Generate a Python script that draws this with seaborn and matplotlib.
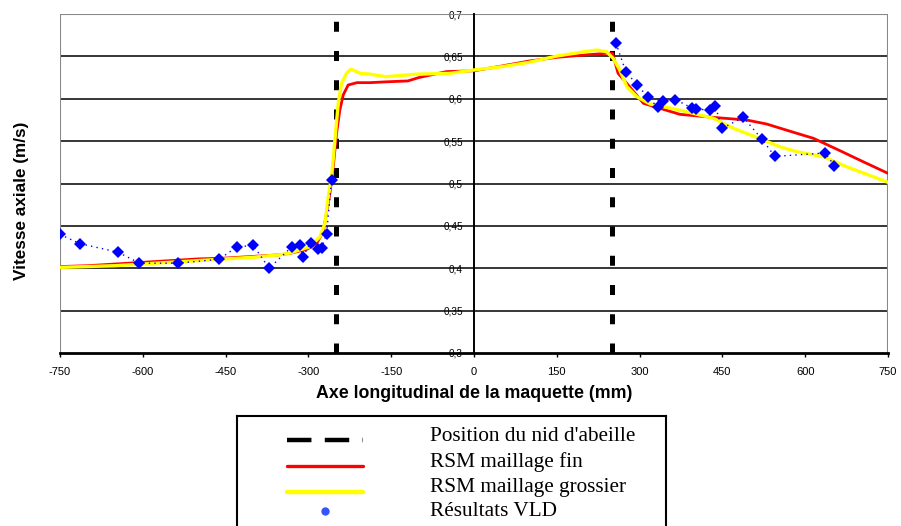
import numpy as np
import pandas as pd
import matplotlib
matplotlib.use("Agg")
import matplotlib.pyplot as plt
import seaborn as sns

# ---- data ----
fine_x = [-750, -700, -650, -600, -550, -500, -450, -400, -350, -333, -303, -285, -273, -261,
          -255, -249, -243, -237, -228, -212, -188, -158, -120, -100, -50, 0, 50, 100, 150, 200,
          240, 251, 261, 277, 307, 343, 373, 434, 494, 530, 585, 615, 663, 705, 750]
fine_y = [0.402, 0.403, 0.405, 0.407, 0.409, 0.411, 0.412, 0.414, 0.416, 0.4176, 0.4223, 0.4294,
          0.4431, 0.4884, 0.5198, 0.5592, 0.5867, 0.6044, 0.6162, 0.619, 0.619, 0.620, 0.621, 0.625,
          0.632, 0.633, 0.6386, 0.6445, 0.6489, 0.6516, 0.6536, 0.6536, 0.630, 0.618, 0.5946,
          0.5875, 0.5816, 0.578, 0.5749, 0.5702, 0.5592, 0.5533, 0.5387, 0.5257, 0.512]

coarse_x = [-750, -700, -650, -600, -550, -500, -450, -400, -350, -333, -297, -279, -270, -264,
            -258, -252, -246, -240, -231, -223, -206, -188, -160, -104, -43, 0, 50, 100, 150,
            200, 222, 240, 252, 264, 277, 295, 319, 349, 385, 434, 470, 506, 554, 585, 633,
            675, 750]
coarse_y = [0.401, 0.402, 0.403, 0.405, 0.407, 0.409, 0.411, 0.413, 0.416, 0.418, 0.4254,
            0.4372, 0.453, 0.4844, 0.508, 0.5513, 0.5946, 0.618, 0.630, 0.635, 0.630, 0.629,
            0.626, 0.629, 0.630, 0.634, 0.6378, 0.643, 0.6504, 0.6555, 0.6575, 0.6555, 0.6477,
            0.634, 0.6142, 0.6024, 0.5938, 0.5899, 0.5847, 0.5769, 0.5651, 0.556, 0.5434,
            0.5375, 0.5316, 0.5198, 0.5014]

vld_left_x = [-750, -714, -645, -606, -537, -462, -430, -400, -371, -330, -315, -310, -296,
              -283, -276, -267, -258]
vld_left_y = [0.440, 0.429, 0.419, 0.406, 0.406, 0.4105, 0.425, 0.427, 0.400, 0.4254, 0.428,
              0.4136, 0.430, 0.423, 0.424, 0.441, 0.504]
vld_right_x = [257, 275, 296, 315, 333, 342, 365, 395, 403, 428, 437, 449, 488, 522, 545, 636, 653]
vld_right_y = [0.666, 0.632, 0.616, 0.602, 0.590, 0.597, 0.599, 0.589, 0.5875, 0.587, 0.592,
               0.565, 0.578, 0.552, 0.532, 0.536, 0.521]

honeycomb_x = [-250, 250]

x_ticks = [-750, -600, -450, -300, -150, 0, 150, 300, 450, 600, 750]
y_ticks = [0.3, 0.35, 0.4, 0.45, 0.5, 0.55, 0.6, 0.65, 0.7]
y_tick_labels = ["0,3", "0,35", "0,4", "0,45", "0,5", "0,55", "0,6", "0,65", "0,7"]

legend_labels = ["Position du nid d'abeille", "RSM maillage fin",
                 "RSM maillage grossier", "Résultats VLD"]

# ---- figure ----
sns.set_theme(style="white")
plt.rcParams['font.family'] = ['Liberation Sans', 'DejaVu Sans']
plt.rcParams['text.color'] = 'black'
plt.rcParams['axes.labelcolor'] = 'black'
plt.rcParams['xtick.color'] = 'black'
plt.rcParams['ytick.color'] = 'black'

fig = plt.figure(figsize=(9.01, 5.26), dpi=100)
ax = fig.add_axes([60/901, 1-353/526, (888-60)/901, (353-14)/526])

# grid lines
for yv in y_ticks[1:-1]:
    ax.axhline(yv, color="black", lw=1.1, zorder=1)
ax.axhline(0.7, color="#888888", lw=1.5, zorder=1)
ax.axvline(-750, color="#888888", lw=1.5, zorder=1)
ax.axvline(750, color="#888888", lw=1.5, zorder=1)

# honeycomb positions
for xv in honeycomb_x:
    ax.axvline(xv, color="black", lw=3.6, dashes=(2.0, 3.85), zorder=2)

df_fine = pd.DataFrame({"x": fine_x, "y": fine_y})
df_coarse = pd.DataFrame({"x": coarse_x, "y": coarse_y})
sns.lineplot(data=df_fine, x="x", y="y", color="#ff0000", lw=2.0, ax=ax, zorder=3)
sns.lineplot(data=df_coarse, x="x", y="y", color="#ffff00", lw=2.4, ax=ax, zorder=4)

for vx, vy in [(vld_left_x, vld_left_y), (vld_right_x, vld_right_y)]:
    dfv = pd.DataFrame({"x": vx, "y": vy})
    sns.lineplot(data=dfv, x="x", y="y", color="#0000ff", lw=1.0, linestyle=(0, (1, 3)),
                 marker="D", markersize=6.3, markeredgewidth=0, ax=ax, zorder=5)

ax.set_xlim(-750, 750)
ax.set_ylim(0.3, 0.7)

# spines
ax.spines['left'].set_position(('data', 0))
ax.spines['left'].set_color("black")
ax.spines['left'].set_linewidth(1.4)
ax.spines['bottom'].set_color("black")
ax.spines['bottom'].set_linewidth(2.0)
ax.spines['right'].set_visible(False)
ax.spines['top'].set_visible(False)

ax.set_xticks(x_ticks)
ax.set_xticklabels([str(v) for v in x_ticks], fontsize=8)
ax.set_yticks(y_ticks)
ax.set_yticklabels(y_tick_labels, fontsize=7.2)
ax.tick_params(axis='x', direction='out', length=3, width=1, pad=7, bottom=True)
ax.tick_params(axis='y', length=0, pad=8, left=True)

ax.set_xlabel("Axe longitudinal de la maquette (mm)", fontsize=12.8, fontweight="bold")
ax.set_ylabel("Vitesse axiale (m/s)", fontsize=12.3, fontweight="bold")
ax.yaxis.set_label_coords(-0.038, 0.45)
ax.xaxis.set_label_coords(0.5, -0.095)

# ---- legend box (clipped at the bottom like the reference) ----
lax = fig.add_axes([237/901, 1-545/526, (666-237)/901, (545-416)/526])
lax.set_xlim(237, 666)
lax.set_ylim(545, 416)
lax.set_xticks([])
lax.set_yticks([])
for s in lax.spines.values():
    s.set_color("black")
    s.set_linewidth(1.5)

lax.plot([287, 363], [440, 440], color="black", lw=3.2, dashes=(5.5, 3.0))
lax.plot([287, 363], [466, 466], color="#ff0000", lw=2.4)
lax.plot([287, 363], [492, 492], color="#ffff00", lw=3.2)
lax.plot([325], [511], marker="o", color="#3355ff", markersize=6, markeredgewidth=0)
for yy, lab in zip([436, 462, 487, 511], legend_labels):
    lax.text(430, yy, lab, fontsize=15.3, family=['Liberation Serif', 'DejaVu Serif'],
             va="center", ha="left")

fig.savefig("out.png", dpi=100)
